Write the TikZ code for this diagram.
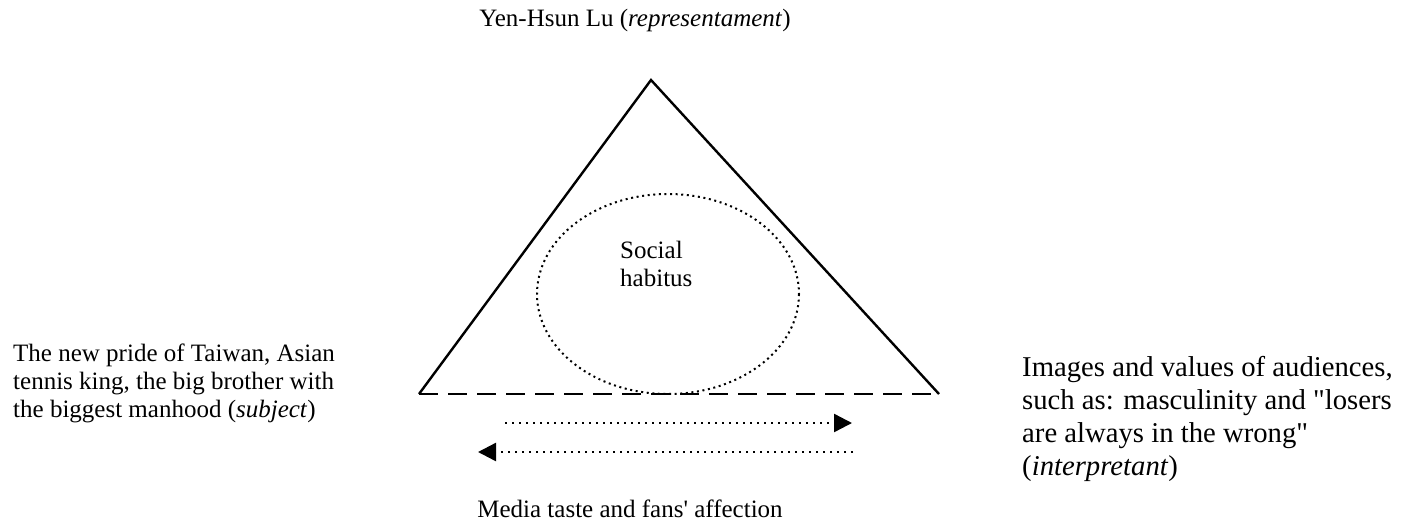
\documentclass[tikz,border=0pt]{standalone}
\usepackage{fontspec}
\setmainfont{Liberation Serif}[Ligatures=TeXOff]
\usepackage{tikz}
\usetikzlibrary{arrows.meta}

\begin{document}
\begin{tikzpicture}[x=1pt, y=-1pt, txt/.style = {inner sep=0, align=left, font=\fontsize{25}{28}\selectfont}, bigtxt/.style = {inner sep=0, align=left, font=\fontsize{28.7}{33}\selectfont}, side/.style = {line width=2.4pt, line join=miter}, base/.style = {line width=2.4pt, dash pattern=on 19pt off 10pt}, flow/.style = {line width=2.4pt, dash pattern=on 2.4pt off 4.6pt, -{Triangle[length=18pt,width=18pt]}}]
\useasboundingbox (0,0) rectangle (1413,523);
\coordinate (apex) at (651,80);
\coordinate (bl) at (419,394);
\coordinate (br) at (939,394);
\node[txt, anchor=base] (sign) at (635,26) {Yen-Hsun Lu (\textit{representament})};
\node[txt, anchor=north west] (habitus) at (620,241) {Social\\habitus};
\node[txt, anchor=north west] (subject) at (13,344) {The new pride of Taiwan, Asian\\tennis king, the big brother with\\the biggest manhood (\textit{subject})};
\node[bigtxt, anchor=north west] (interp) at (1022,356) {Images and values of audiences,\\such as: masculinity and "losers\\are always in the wrong"\\(\textit{interpretant})};
\node[txt, anchor=base] (media) at (630,517) {Media taste and fans' affection};
\draw[side] (bl) -- (apex) -- (br);
\draw[base] (bl) -- (br);
\draw[line width=2pt, dash pattern=on 2pt off 3.6pt] (668,294) ellipse [x radius=131, y radius=100];
\coordinate (ra) at (505,423);
\coordinate (rb) at (852,423);
\coordinate (la) at (853,452);
\coordinate (lb) at (478,452);
\draw[flow] (ra) -- (rb);
\draw[flow] (la) -- (lb);
\end{tikzpicture}
\end{document}
